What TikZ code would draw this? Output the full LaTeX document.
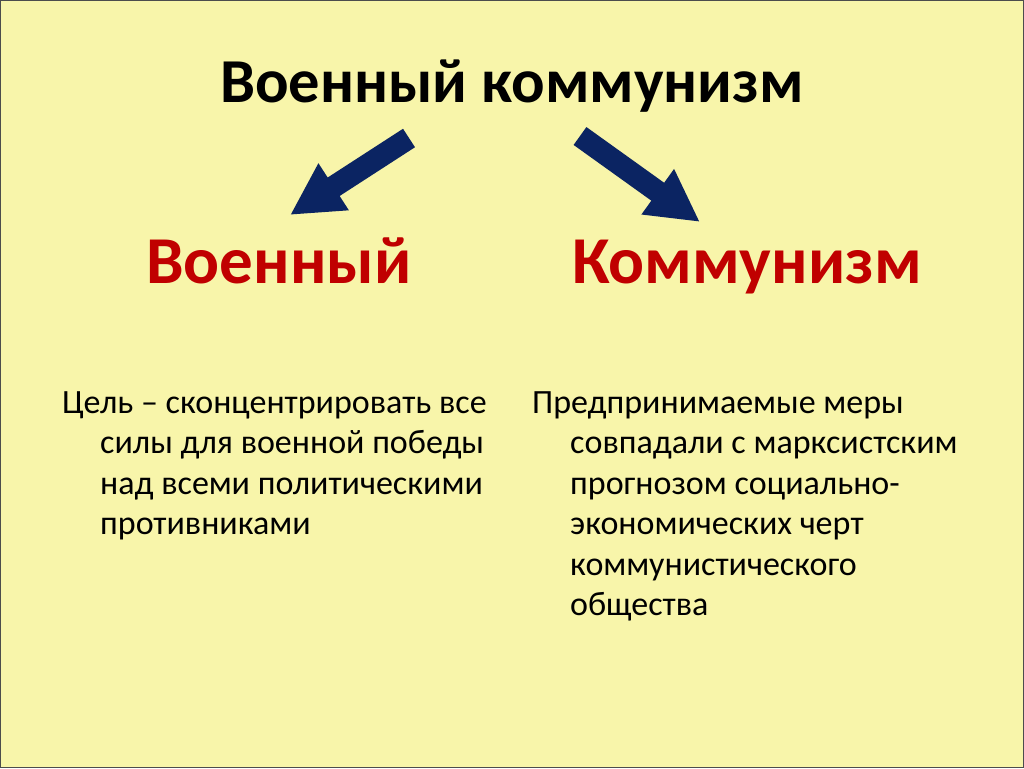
\documentclass[tikz,border=0pt]{standalone}
\usepackage{fontspec}
\setmainfont{Carlito}
\usetikzlibrary{arrows.meta}
\definecolor{bgyellow}{HTML}{F8F5AA}
\definecolor{navyarrow}{HTML}{0B2462}
\definecolor{darkred}{HTML}{C00000}
\tikzset{
  x=1pt, y=-1pt,
  title/.style={font=\bfseries\fontsize{62.5}{75}\selectfont, text=black, inner sep=0pt, anchor=base},
  heading/.style={font=\bfseries\fontsize{67}{80}\selectfont, text=darkred, inner sep=0pt, anchor=base},
  bodytext/.style={font=\fontsize{34}{40.5}\selectfont, text=black, inner sep=0pt, anchor=north west, align=left},
  bigarrow/.style={draw=navyarrow, line width=22pt, line cap=butt, -{Triangle[length=52pt,width=52pt]}}
}
\newcommand{\hang}{\hspace*{38pt}}
\begin{document}
\begin{tikzpicture}
\fill[bgyellow] (0,0) rectangle (1024,768);
\draw[black!70, line width=1pt] (0.5,0.5) rectangle (1023.5,767.5);
\useasboundingbox (0,0) rectangle (1024,768);

\node[title] (t) at (512,102) {Военный коммунизм};
\node[heading] (war) at (279,283) {Военный};
\node[heading] (comm) at (747,283) {Коммунизм};

\coordinate (la) at (409,138);
\coordinate (lb) at (290,215);
\coordinate (ra) at (580,136);
\coordinate (rb) at (700,222);
\draw[bigarrow] (la) -- (lb);
\draw[bigarrow] (ra) -- (rb);

\node[bodytext] (lt) at (62,391) {Цель – сконцентрировать все\\ \hang силы для военной победы\\ \hang над всеми политическими\\ \hang противниками};
\node[bodytext] (rt) at (532,391) {Предпринимаемые меры\\ \hang совпадали с марксистским\\ \hang прогнозом социально-\\ \hang экономических черт\\ \hang коммунистического\\ \hang общества};
\end{tikzpicture}
\end{document}
